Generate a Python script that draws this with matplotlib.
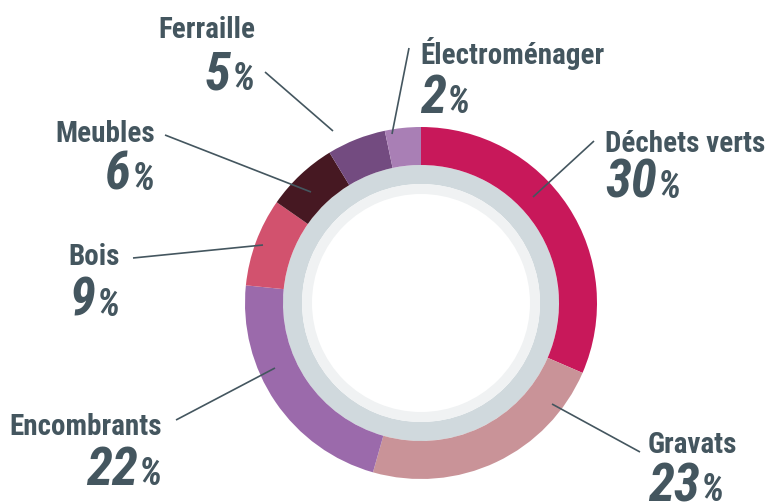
import matplotlib
matplotlib.use("Agg")
import matplotlib.pyplot as plt
from matplotlib import font_manager

# data
labels = ["Déchets verts", "Gravats", "Encombrants", "Bois", "Meubles", "Ferraille", "Électroménager"]
pct_labels = [30, 23, 22, 9, 6, 5, 2]
# wedge sizes as drawn in the picture (share of the ring, %)
shares = [31.5, 22.9, 22.2, 8.1, 6.6, 5.4, 3.3]
colors = ["#c8185a", "#c99398", "#9b6aab", "#d2526e", "#461822", "#734b80", "#a97fb5"]

# layout (pixel coords, y from top): label anchor x, name baseline, pct baseline, align
label_x = [605, 648, 162, 120, 155, 255, 420]
name_y = [152, 453, 435, 265, 142, 38, 64]
pct_y = [198, 501, 485, 316, 190, 90, 113]
align = ["left", "left", "right", "right", "right", "right", "left"]
# leader lines: (x0, y0, x1, y1)
leaders = [(533, 197, 594, 141), (552, 404, 640, 452), (275, 368, 176, 420),
           (263, 245, 133, 258), (311, 192, 165, 135), (333, 131, 265, 72),
           (392, 134, 409, 48)]

W, H = 770, 504
CX, CY = 421, 303
TXT = "#44565f"

avail = {f.name for f in font_manager.fontManager.ttflist}
font = "Roboto"
for cand in ["Roboto Condensed", "Liberation Sans Narrow"]:
    if cand in avail:
        font = cand
        break
plt.rcParams['font.family'] = [font, 'DejaVu Sans']

fig = plt.figure(figsize=(W / 100, H / 100), dpi=100)
ax = fig.add_axes([0, 0, 1, 1])

def py(y):
    return H - y

# inner decorative rings
ax.pie([1], radius=138, center=(CX, py(CY)), colors=["#d0d9dd"],
       wedgeprops=dict(width=19, linewidth=0))
ax.pie([1], radius=119, center=(CX, py(CY)), colors=["#f0f2f3"],
       wedgeprops=dict(width=10, linewidth=0))

ax.pie(shares, radius=176, center=(CX, py(CY)), colors=colors, startangle=90,
       counterclock=False, wedgeprops=dict(width=38, linewidth=0))
ax.set_xlim(0, W)
ax.set_ylim(0, H)
ax.set_aspect('equal')
ax.axis('off')

for x0, y0, x1, y1 in leaders:
    ax.plot([x0, x1], [py(y0), py(y1)], color=TXT, lw=1.2, solid_capstyle='butt')

fig.canvas.draw()
renderer = fig.canvas.get_renderer()

def width_px(t):
    return t.get_window_extent(renderer).width

for lab, v, x, ny, pyy, al in zip(labels, pct_labels, label_x, name_y, pct_y, align):
    ax.text(x, py(ny), lab, ha=al, va='baseline', fontsize=21, fontweight='bold', color=TXT)
    d = ax.text(0, py(pyy), str(v), ha='left', va='baseline', fontsize=38,
                fontweight='bold', fontstyle='italic', color=TXT)
    p = ax.text(0, py(pyy), "%", ha='left', va='baseline', fontsize=27,
                fontweight='bold', fontstyle='italic', color=TXT)
    wd = width_px(d)
    wp = width_px(p)
    gap = 1
    if al == "left":
        x_d = x
    else:
        x_d = x - wp - gap - wd
    d.set_x(x_d)
    p.set_x(x_d + wd + gap)

fig.savefig("out.png", dpi=100)
